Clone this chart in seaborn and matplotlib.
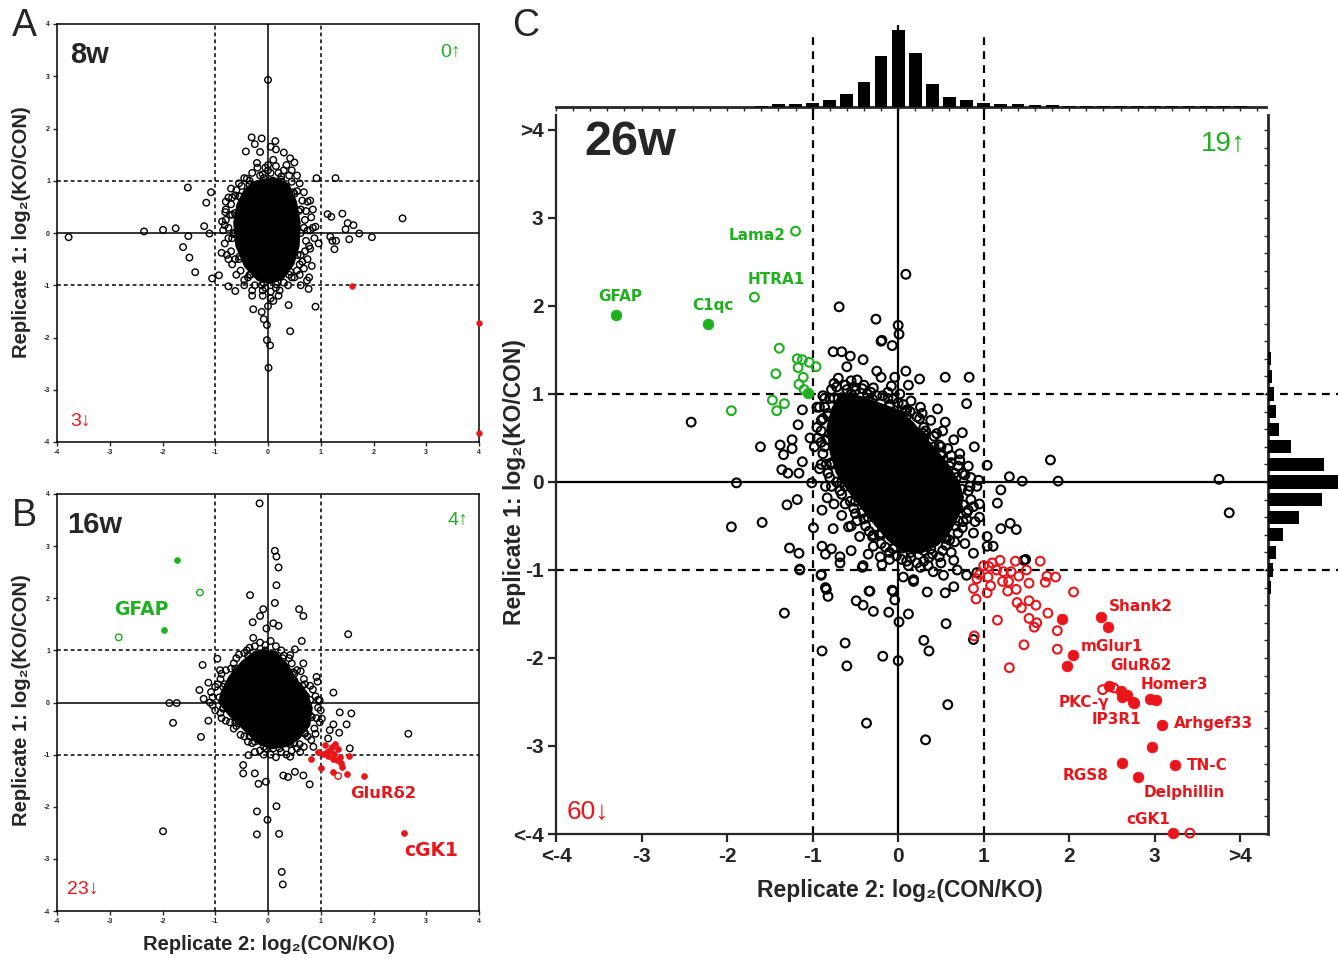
import numpy as np
import pandas as pd
import matplotlib
matplotlib.use('Agg')
import matplotlib.pyplot as plt
import seaborn as sns
from matplotlib.ticker import MultipleLocator

sns.set_style('ticks')
plt.rcParams['font.family'] = ['Liberation Sans', 'DejaVu Sans']
NARROW = ['Liberation Sans Narrow', 'Liberation Sans', 'DejaVu Sans']
GENE = ['DejaVu Sans']

GREEN = '#1FAF1F'
RED = '#E8161B'

# ---------------- Panel A (8w) ----------------
a_core_x = [-0.25, 0.1, 0.4, 0.55, 0.62, 0.6, 0.5, 0.3, 0.05, -0.2, -0.45, -0.62, -0.66, -0.6, -0.45]
a_core_y = [1.0, 1.08, 0.95, 0.6, 0.2, -0.25, -0.6, -0.88, -0.98, -0.92, -0.65, -0.25, 0.2, 0.55, 0.85]
a_black_x = [0.0, -3.78, -2.35, -1.99, -1.75, -1.52, -1.51, -1.61, -1.49, -1.38, -1.21, -1.11, -1.17, -1.08,
             -1.06, -0.93, -0.87, -0.81, -0.75, -0.62, -0.28, -0.12, -0.02, -0.02, 0.04, 0.01, 0.39, 0.42,
             0.90, 0.77, 0.74, 0.83, 0.92, 1.28, 0.42, -0.31, -0.12, 0.14, -0.42, 0.30, -0.21, -0.40, 0.96,
             1.13, 1.20, 1.41, 1.47, 1.51, 1.62, 1.54, 1.73, 1.97, 2.55, 1.18, 1.22, 1.29, 1.26,
             -0.75, -0.88, -0.85, -0.8, -0.68, -0.7, 0.55, 0.45, 0.5, 0.35, -0.05, 0.1, -0.15, 0.15, -0.25,
             0.05, 0.8, 0.85, 0.9, 0.88, 0.78, 0.62, -0.45, -0.3, 0.1, 0.2, 0.0, -0.08,
             -0.5, -0.35, -0.15, 0.05, 0.25, 0.45, 0.55, 0.65, 0.72, 0.70, 0.75, 0.72, 0.70, 0.65, 0.55,
             0.45, 0.30, 0.15, -0.05, -0.25, -0.38, -0.52, -0.62, -0.70, -0.75, -0.75, -0.72, -0.70,
             -0.62, 0.8, 0.85, -0.8, 0.6, -0.1, 0.05, 0.0, 0.2,
             -0.55, -0.45, -0.3, -0.2, 0.0, 0.15, 0.3, 0.4, 0.6, 0.68, 0.75, 0.82, 0.8, 0.78, 0.75, 0.68,
             0.6, 0.5, 0.38, 0.22, 0.05, -0.1, -0.3, -0.45, -0.6, -0.68, -0.78, -0.82, -0.65, -0.82, -0.8,
             -0.75, -0.6, -0.35, -0.1, 0.25, 0.5, 0.62, 0.68, 0.62, 0.4, 0.15, -0.12, -0.35, -0.55, -0.68,
             -0.68, -0.55,
             -0.08, 0.25, 0.48, 0.58, 0.62, 0.56, 0.42, 0.18, -0.08, -0.33, -0.54, -0.65, -0.63, -0.53, -0.35]
a_black_y = [2.93, -0.08, 0.03, 0.06, 0.09, 0.87, -0.06, -0.27, -0.47, -0.75, 0.13, -0.01, 0.58, 0.78,
             -0.87, -0.81, 0.22, 0.40, -1.02, -1.11, -1.46, -1.51, -1.76, -2.05, -2.15, -2.58, -1.38, -1.88,
             -1.41, -1.07, -0.91, -0.63, 1.05, 1.05, 1.43, 1.83, 1.81, 1.76, 1.56, 1.54, 1.34, 1.04, -0.20,
             0.36, 0.31, 0.37, 0.07, 0.19, 0.15, -0.12, -0.01, -0.08, 0.28, -0.07, -0.15, -0.15, -0.31,
             -0.5, -0.38, 0.05, 0.6, 0.68, 0.85, 1.1, 1.2, 1.35, 1.3, 1.25, 1.4, 1.55, 1.6, 1.7,
             1.65, 0.62, 0.45, 0.12, -0.1, -0.85, -1.0, -1.0, -1.2, -1.3, -1.2, -1.4, -1.65,
             0.9, 1.0, 1.1, 1.15, 1.08, 0.98, 0.8, 0.62, 0.42, 0.25, 0.05, -0.15, -0.35, -0.55, -0.72,
             -0.85, -0.95, -1.05, -1.05, -1.0, -0.85, -0.72, -0.5, -0.35, -0.1, 0.1, 0.35, 0.55,
             0.72, -0.3, 0.1, 0.25, -0.8, -1.2, -1.25, 1.2, 1.15,
             0.95, 1.05, 1.15, 1.25, 1.3, 1.28, 1.2, 1.1, 0.95, 0.78, 0.6, 0.3, 0.05, -0.25, -0.5, -0.68,
             -0.6, -0.85, -1.0, -1.1, -1.12, -1.1, -1.1, -0.9, -0.8, -0.6, -0.42, -0.2, 0.0, 0.15, 0.45,
             0.68, 0.82, 0.92, 1.12, 0.98, 0.75, 0.45, 0.1, -0.42, -0.8, -0.98, -1.0, -0.8, -0.5, -0.1,
             0.35, 0.7,
             1.05, 1.02, 0.78, 0.42, 0.0, -0.42, -0.74, -0.94, -0.96, -0.8, -0.45, -0.02, 0.38, 0.7, 0.93]
a_red_x = [1.60, 4.0, 4.0]
a_red_y = [-1.02, -1.72, -3.83]

# ---------------- Panel B (16w) ----------------
b_core_x = [-0.25, 0.15, 0.4, 0.55, 0.75, 0.85, 0.8, 0.6, 0.4, 0.05, -0.2, -0.5, -0.75, -0.95, -0.9, -0.75, -0.5]
b_core_y = [1.0, 1.0, 0.7, 0.45, 0.2, -0.1, -0.45, -0.7, -0.85, -0.9, -0.8, -0.5, -0.25, 0.0, 0.2, 0.5, 0.8]
b_black_x = [-0.16, 0.13, 0.16, 0.20, 0.16, 0.13, -0.34, -0.09, -0.15, -0.29, 0.10, 0.20, -0.03, -0.28,
             0.59, 0.67, 0.64, 1.52, 0.51, 0.42, 0.67, 0.92, 0.94, 1.24, 0.98, -1.24, -1.13, -1.30, -1.22,
             -1.87, -1.73, -1.80, -1.13, -1.27, -0.96, -0.91, -1.99, -0.21, -0.21, -0.01, 0.16, 0.21, 0.26,
             0.28, -0.47, -0.47, -0.25, -0.18, -0.04, 0.29, 0.38, 0.51, 0.67, 0.79, 2.66, 1.58, 1.36, 1.55,
             1.24, 1.49, 1.02, 1.17, 1.35, 1.14, -0.37, -0.03, 0.42, 0.61, 0.86,
             -0.4, -0.25, -0.05, 0.15, 0.3, 0.45, 0.55, 0.68, 0.80, 0.9, 0.95, 0.92, 0.88, 0.75, 0.6, 0.45,
             0.25, 0.05, -0.15, -0.3, -0.45, -0.6, -0.8, -0.9, -1.05, -1.05, -1.0, -0.9, -0.8, -0.65, -0.55,
             -0.35, -0.15, 0.05, 0.25, 0.4, 0.5, 0.62, 0.7, 0.85, 0.95, 1.0, 0.98, 0.9, 0.82, 0.68, 0.55,
             0.35, 0.15, -0.08, -0.25, -0.38, -0.52, -0.65, -0.72, -0.88, -1.0, -1.1, -1.08, -0.95, -0.88,
             -0.7, -0.6, -0.45, -0.1, 0.3, 0.5, 0.72, 0.8, 0.7, 0.42, 0.1, -0.25, -0.55, -0.85, -0.85, -0.6,
             -0.05, 0.28, 0.48, 0.65, 0.8, 0.83, 0.7, 0.5, 0.22, -0.08, -0.35, -0.62, -0.85, -0.92, -0.82,
             -0.62, -0.38]
b_black_y = [3.82, 2.91, 2.80, 2.59, 2.25, 1.91, 2.06, 1.79, 1.66, 1.54, 1.52, 1.47, 1.42, 1.24,
             1.79, 1.66, 1.18, 1.31, 1.02, 0.91, 0.75, 0.49, 0.40, 0.19, 0.04, 0.72, 0.38, 0.24, 0.07,
             -0.01, -0.01, -0.39, -0.35, -0.66, 0.84, 0.62, -2.47, -2.09, -2.53, -2.25, -1.99, -2.52, -3.25,
             -3.49, -1.20, -1.36, -1.36, -1.56, -1.52, -1.40, -1.43, -1.33, -1.40, -1.57, -0.60, -0.21, -0.19,
             -0.88, -0.42, -0.42, -0.31, -0.53, -0.58, -0.69, -1.01, -0.88, -1.04, -0.95, -0.85,
             1.0, 1.08, 1.1, 1.08, 0.9, 0.75, 0.62, 0.45, 0.32, 0.12, -0.1, -0.3, -0.5, -0.65, -0.8, -0.92,
             -0.95, -1.0, -0.92, -0.78, -0.65, -0.45, -0.35, -0.2, -0.05, 0.1, 0.3, 0.45, 0.62, 0.75, 0.92,
             1.05, 1.15, 1.18, 1.0, 0.85, 0.55, 0.6, 0.35, 0.25, 0.05, -0.15, -0.38, -0.6, -0.72, -0.85, -0.88,
             -1.0, -1.05, -1.0, -0.95, -0.75, -0.62, -0.5, -0.38, -0.3, -0.15, 0.0, 0.2, 0.35, 0.55,
             0.65, 0.85, 0.95, 0.95, 0.72, 0.42, 0.12, -0.25, -0.6, -0.8, -0.88, -0.75, -0.4, -0.1, 0.3, 0.6,
             1.0, 0.85, 0.58, 0.32, 0.05, -0.28, -0.58, -0.78, -0.88, -0.85, -0.65, -0.38, -0.12, 0.1, 0.35,
             0.65, 0.9]
b_green_open_x = [-1.29, -2.83]
b_green_open_y = [2.11, 1.25]
b_green_fill_x = [-1.73, -1.97]
b_green_fill_y = [2.73, 1.39]
b_red_fill_x = [2.57, 1.82, 1.50, 1.24, 1.00, 0.81, 0.95, 1.39, 1.41, 1.54, 1.08, 1.27, 1.17, 1.26,
                1.33, 1.14, 1.24, 1.05, 1.36, 1.21, 1.11, 1.30]
b_red_fill_y = [-2.50, -1.41, -1.38, -1.33, -1.25, -1.09, -0.95, -1.17, -1.24, -1.02, -0.82, -0.80, -0.92,
                -0.98, -0.90, -1.03, -1.08, -0.99, -1.04, -0.85, -0.95, -1.11]
b_red_open_x = [1.33]
b_red_open_y = [-1.41]

# ---------------- Panel C (26w) ----------------
c_core_x = [-0.68, -0.44, -0.21, 0.02, 0.18, 0.37, 0.57, 0.71, 0.77, 0.73, 0.62, 0.47, 0.26, 0.04, -0.12,
            -0.28, -0.43, -0.58, -0.73, -0.80, -0.84, -0.78]
c_core_y = [1.02, 0.98, 0.90, 0.82, 0.68, 0.46, 0.23, 0.02, -0.17, -0.35, -0.56, -0.72, -0.82, -0.79, -0.67,
            -0.49, -0.31, -0.12, 0.10, 0.33, 0.62, 0.84]
c_black_x = [-2.42, -1.95, -1.89, -1.61, -1.59, -1.33, -1.38, -1.24, -1.24, -1.34, -1.12, -1.36, -1.29, -1.16,
             -1.17, -1.12, -1.03, -0.95, -1.01, -1.30, -1.18, -0.99, -0.89, -0.83, -0.76, -0.58, -1.27, -1.16,
             -0.89, -0.85, -0.78, -0.68, -0.55, -1.15, -0.90, -0.85, -0.82, -0.41, -0.49, -0.34, -0.29, -0.21,
             -0.19, -0.29, -0.07, 0.06, 0.18, 0.34, 0.55, 0.65, 0.41, 0.53, 0.69, 0.80, 0.92, 0.26, 0.65, 0.88,
             1.04,
             -0.69, -0.26, 0.0, 0.01, -0.20, -0.07, -0.76, -0.66, -0.56, -0.41, -0.60, -0.25, -0.20, -0.70,
             -0.48, -0.04, 0.09, 0.12, 0.25, 0.55, 0.83, -0.08, -0.29, 0.80, 0.46, 0.55, 0.26, 0.75, 0.89,
             1.04, 1.78, 1.30, 1.45, 1.87, 1.20, 1.16, 1.31, 1.38, 1.20, 1.11, 1.47, 0.95, 0.94, 0.80, 0.88,
             1.04, 0.09, 3.75, 3.87, -0.19,
             -0.89, -0.62, -0.60, -0.18, 0.0, 0.01, 0.12, 0.30, 0.36, 0.56, 0.88, 0.58, -0.37, 0.32, -0.41,
             -0.29, -0.33, -0.11, -0.06, -0.04, -0.84, -0.90, -0.68, -0.42, 0.18, 1.49, -1.15,
             -0.72, -0.60, -0.50, -0.36, -0.25, -0.12, 0.0, 0.10, 0.22, 0.30, 0.42, 0.50, 0.62, 0.70, 0.78,
             0.84, 0.85, 0.82, 0.76, 0.70, 0.60, 0.52, 0.40, 0.30, 0.15, 0.04, -0.06, -0.15, -0.22, -0.34,
             -0.40, -0.50, -0.56, -0.66, -0.72, -0.80, -0.84, -0.88, -0.90, -0.90, -0.88, -0.86, -0.80,
             -0.95, -0.98, -0.92, -0.85, -0.75, -0.66, -0.55, -0.45, -0.35, -0.10, 0.12, 0.35, 0.50, 0.62,
             0.78, 0.90, 0.95, 0.92, 0.82, 0.72, 0.65, 0.52, 0.38, 0.28, 0.15, 0.02, -0.12, -0.40, -0.55,
             -0.78, -0.88, -0.92,
             -0.75, -0.62, -0.52, -0.42, -0.32, -0.18, -0.06, 0.06, 0.14, 0.25, 0.32, 0.45, 0.48, 0.58, 0.62,
             0.72, 0.75, 0.85, 0.82, 0.88, 0.80, 0.75, 0.66, 0.56, 0.48, 0.36, 0.22, 0.10, -0.02, -0.10,
             -0.20, -0.30, -0.38, -0.48, -0.52, -0.62, -0.68, -0.78, -0.82, -0.90, -0.86, -0.94, -0.90,
             -0.82, -0.86, -0.70, -0.55, -0.35, -0.10, 0.10, 0.30, 0.50, 0.68, 0.70, 0.55, 0.30, 0.05,
             -0.20, -0.42, -0.62, -0.78, -0.80,
             0.30, 0.42, 0.50, 0.60, 0.66, 0.74, 0.76, 0.70, 0.67, 0.55, 0.38, 0.15, 0.08, -0.10, -0.30,
             -0.55, -0.75, -0.82, -0.83, -0.78, -0.66, -0.50, -0.35, -0.20, -0.04]
c_black_y = [0.68, -0.51, -0.01, 0.40, -0.46, -1.49, 0.42, 0.48, 0.38, 0.31, 0.23, 0.14, 0.10, 0.10,
             0.65, 0.82, 0.50, 0.85, -0.01, -0.26, -0.20, -0.52, -0.32, -0.18, -0.53, -0.51, -0.75, -0.81,
             -0.73, -0.82, -0.76, -0.85, -0.78, -0.99, -1.05, -1.20, -1.30, -0.95, -1.35, -1.24, -0.60, -0.85,
             -0.94, -0.73, -1.23, -1.08, -1.13, -1.25, -1.26, -1.19, -1.02, -1.06, -1.00, -1.06, -1.03, -0.97,
             -0.89, -0.81, -0.73,
             1.99, 1.85, 1.78, 1.68, 1.60, 1.55, 1.48, 1.48, 1.43, 1.39, 1.31, 1.26, 1.19, 1.18,
             1.16, 1.19, 1.26, 1.10, 1.17, 1.19, 1.19, 1.09, 1.07, 0.89, 0.83, 0.68, 0.85, 0.56, 0.40,
             0.19, 0.25, 0.06, 0.01, 0.01, -0.09, -0.24, -0.47, -0.54, -0.53, -0.73, -0.89, -0.40, 0.02, -0.35,
             -0.58, -0.62, 2.36, 0.03, -0.35, 1.61,
             -1.92, -1.83, -2.09, -1.98, -2.03, -1.59, -1.50, -1.80, -1.92, -1.61, -1.79, -2.53, -2.74, -2.93,
             -1.40, -1.47, -1.24, -1.48, -1.24, -1.34, -1.22, -1.06, -0.92, -0.97, -1.11, -0.88, -1.00,
             1.08, 1.05, 1.04, 1.00, 0.98, 0.95, 0.90, 0.82, 0.74, 0.62, 0.52, 0.40, 0.30, 0.18, 0.08,
             -0.05, -0.20, -0.32, -0.45, -0.58, -0.66, -0.78, -0.82, -0.90, -0.86, -0.88, -0.76, -0.74, -0.60,
             -0.56, -0.42, -0.36, -0.22, -0.14, 0.00, 0.05, 0.20, 0.32, 0.45, 0.58, 0.72, 0.85, 0.95,
             0.62, 0.40, 0.15, -0.05, -0.25, -0.38, -0.50, -0.62, -0.82, -0.88, -0.95, -0.95, -0.92, -0.80,
             -0.70, -0.45, -0.25, -0.05, 0.18, 0.32, 0.48, 0.58, 0.70, 0.78, 0.92, 1.00, 1.02, 1.10, 1.15,
             1.05, 0.98, 0.85,
             1.12, 1.10, 1.08, 1.06, 1.02, 0.98, 0.94, 0.88, 0.80, 0.72, 0.58, 0.55, 0.42, 0.38, 0.22,
             0.25, 0.10, 0.05, -0.10, -0.28, -0.42, -0.52, -0.68, -0.72, -0.85, -0.86, -0.92, -0.90, -0.84,
             -0.80, -0.70, -0.62, -0.50, -0.44, -0.30, -0.25, -0.10, -0.05, 0.10, 0.20, 0.40, 0.50, 0.70,
             0.78, 0.95, 0.95, 1.00, 0.92, 0.88, 0.75, 0.50, 0.30, 0.05, -0.30, -0.62, -0.78, -0.75,
             -0.60, -0.35, -0.05, 0.20, 0.55,
             0.55, 0.40, 0.33, 0.18, 0.10, -0.08, -0.26, -0.44, -0.50, -0.64, -0.76, -0.80, 0.80, 0.86, 0.94,
             1.00, 0.95, 0.75, 0.48, 0.22, 0.00, -0.22, -0.40, -0.58, -0.74]
c_green_open_x = [-1.68, -1.20, -1.39, -1.18, -1.12, -1.04, -0.96, -1.17, -1.43, -1.11, -1.16, -1.47, -1.33,
                  -1.42, -1.95, -1.10]
c_green_open_y = [2.10, 2.85, 1.52, 1.40, 1.39, 1.36, 1.31, 1.30, 1.23, 1.19, 1.11, 0.93, 0.89, 0.81, 0.81,
                  1.05]
c_green_fill_x = [-3.30, -2.22, -1.05]
c_green_fill_y = [1.90, 1.80, 1.01]
c_red_fill_x = [2.37, 2.45, 1.91, 2.04, 1.97, 2.47, 2.60, 2.62, 2.68, 2.74, 2.76, 2.94, 3.01, 3.09, 2.97,
                3.24, 2.62, 2.80, 3.21]
c_red_fill_y = [-1.53, -1.65, -1.56, -1.97, -2.09, -2.32, -2.38, -2.44, -2.42, -2.50, -2.51, -2.47, -2.48,
                -2.76, -3.01, -3.22, -3.19, -3.35, -3.99]
c_red_open_x = [3.41, 2.39, 2.52, 1.10, 1.19, 1.37, 1.66, 1.06, 1.23, 1.32, 1.41, 1.74, 1.84, 0.92, 1.05,
                1.22, 1.29, 1.53, 1.72, 0.88, 1.04, 1.28, 1.38, 2.05, 0.91, 1.39, 1.53, 1.61, 1.44, 1.75,
                1.16, 1.53, 1.62, 1.59, 1.86, 1.47, 1.86, 1.30, 0.89, 1.00, 1.15, 0.95, 1.08, 1.50]
c_red_open_y = [-3.99, -2.36, -2.34, -0.92, -0.89, -0.90, -0.90, -0.96, -1.02, -1.02, -1.07, -1.07, -1.08,
                -1.10, -1.08, -1.13, -1.13, -1.15, -1.14, -1.21, -1.26, -1.24, -1.22, -1.25, -1.33, -1.37,
                -1.35, -1.40, -1.43, -1.49, -1.57, -1.55, -1.60, -1.65, -1.69, -1.85, -1.90, -2.11, -1.75,
                -0.95, -1.00, -1.05, -1.18, -1.00]

# marginal histograms of panel C
top_centers = [-1.6, -1.4, -1.2, -1.0, -0.8, -0.6, -0.4, -0.2, 0.0, 0.2, 0.4, 0.6, 0.8, 1.0, 1.2, 1.4, 1.6,
               1.8, 2.0, 2.2, 2.4, 2.6, 2.8, 3.0, 3.2, 3.4, 3.6, 3.8, 4.0]
top_counts = [4, 8, 8, 12, 22, 40, 74, 152, 230, 162, 68, 29, 20, 12, 8, 8, 5, 5, 3, 3, 3, 4, 3, 3, 3, 3, 3,
              2, 2]
right_centers = [-1.2, -1.0, -0.8, -0.6, -0.4, -0.2, 0.0, 0.2, 0.4, 0.6, 0.8, 1.0, 1.2, 1.4]
right_counts = [10, 15, 25, 46, 92, 162, 215, 168, 68, 32, 23, 17, 13, 10]

# ---------------- figure ----------------
W, H = 1338, 958
fig = plt.figure(figsize=(W / 100, H / 100), dpi=100)


def rect(l, t, r, b):
    return [l / W, 1 - b / H, (r - l) / W, (b - t) / H]


def ftext(px, py, s, **kw):
    fig.text(px / W, 1 - py / H, s, **kw)


def open_pts(ax, xs, ys, color, s, lw, z=3):
    sns.scatterplot(x=xs, y=ys, ax=ax, s=s, color=color, facecolor='none', edgecolor=color,
                    linewidth=lw, legend=False, zorder=z, clip_on=False)


def fill_pts(ax, xs, ys, color, s, z=4):
    sns.scatterplot(x=xs, y=ys, ax=ax, s=s, color=color, edgecolor=color, linewidth=0.5,
                    legend=False, zorder=z, clip_on=False)


def small_panel(ax):
    ax.set_xlim(-4, 4)
    ax.set_ylim(-4, 4)
    ticks = list(range(-4, 5))
    ax.set_xticks(ticks)
    ax.set_yticks(ticks)
    ax.set_xticklabels([str(t) for t in ticks], fontsize=5, fontweight='bold')
    ax.set_yticklabels([str(t) for t in ticks], fontsize=5, fontweight='bold')
    ax.tick_params(length=3, width=1.0, pad=2, direction='out')
    for sp in ax.spines.values():
        sp.set_linewidth(1.1)
        sp.set_color('black')
    ax.axhline(0, color='black', lw=1.1, zorder=1)
    ax.axvline(0, color='black', lw=1.1, zorder=1)
    for v in (-1, 1):
        ax.axhline(v, color='black', lw=1.1, ls=(0, (2.5, 2)), zorder=1)
        ax.axvline(v, color='black', lw=1.1, ls=(0, (2.5, 2)), zorder=1)


# Panel A
axA = fig.add_axes(rect(57, 24, 479, 442))
small_panel(axA)
axA.fill(a_core_x, a_core_y, color='black', lw=0, zorder=2)
open_pts(axA, a_black_x, a_black_y, 'black', 22, 1.0)
fill_pts(axA, a_red_x, a_red_y, RED, 16)
axA.set_xlabel('')
axA.set_ylabel('')

# Panel B
axB = fig.add_axes(rect(57, 494, 479, 911))
small_panel(axB)
axB.fill(b_core_x, b_core_y, color='black', lw=0, zorder=2)
open_pts(axB, b_black_x, b_black_y, 'black', 22, 1.0)
open_pts(axB, b_green_open_x, b_green_open_y, GREEN, 22, 1.0)
fill_pts(axB, b_green_fill_x, b_green_fill_y, GREEN, 18)
fill_pts(axB, b_red_fill_x, b_red_fill_y, RED, 18)
open_pts(axB, b_red_open_x, b_red_open_y, RED, 22, 1.0)
axB.set_xlabel('')
axB.set_ylabel('')

# Panel C main
axC = fig.add_axes(rect(556, 115, 1266, 834))
axC.set_xlim(-4, 4.3)
axC.set_ylim(-4, 4.17)
for side in ('top', 'right'):
    axC.spines[side].set_visible(False)
for side in ('left', 'bottom'):
    axC.spines[side].set_linewidth(1.6)
ticks = list(range(-4, 5))
labs = ['<-4', '-3', '-2', '-1', '0', '1', '2', '3', '>4']
axC.set_xticks(ticks)
axC.set_yticks(ticks)
axC.set_xticklabels(labs, fontsize=15, fontweight='bold', family=NARROW)
axC.set_yticklabels(labs, fontsize=15, fontweight='bold', family=NARROW)
axC.tick_params(length=6, width=1.6, pad=3, direction='out')
dash = (0, (3.5, 2.8))
axC.axhline(0, color='black', lw=1.6, zorder=1)
axC.axvline(0, color='black', lw=1.6, zorder=1)
for v in (-1, 1):
    axC.axhline(v, color='black', lw=1.6, ls=dash, zorder=1)
    axC.axvline(v, color='black', lw=1.6, ls=dash, zorder=1)
axC.fill(c_core_x, c_core_y, color='black', lw=0, zorder=2)
open_pts(axC, c_black_x, c_black_y, 'black', 40, 1.5)
open_pts(axC, c_green_open_x, c_green_open_y, GREEN, 40, 1.5)
fill_pts(axC, c_green_fill_x, c_green_fill_y, GREEN, 60)
open_pts(axC, c_red_open_x, c_red_open_y, RED, 40, 1.5)
fill_pts(axC, c_red_fill_x, c_red_fill_y, RED, 60)
axC.set_xlabel('')
axC.set_ylabel('')

# top histogram
axT = fig.add_axes(rect(556, 25, 1266, 115))
sns.histplot(x=top_centers, weights=top_counts, binwidth=0.2, binrange=(-4.1, 4.3), shrink=0.75,
             color='black', alpha=1, edgecolor='none', ax=axT, zorder=3)
axT.set_xlim(-4, 4.3)
axT.set_ylim(-23.9, 245)
for side in ('top', 'right', 'left'):
    axT.spines[side].set_visible(False)
axT.spines['bottom'].set_position(('data', 0))
axT.spines['bottom'].set_linewidth(2.0)
axT.set_yticks([])
axT.xaxis.set_major_locator(MultipleLocator(0.2))
axT.tick_params(axis='x', length=3, width=1.0, labelbottom=False, direction='out')
axT.axvline(0, color='black', lw=1.6, zorder=1)
for v in (-1, 1):
    axT.axvline(v, ymax=0.89, color='black', lw=1.6, ls=dash, zorder=1)
axT.set_xlabel('')
axT.set_ylabel('')
axT.patch.set_alpha(0)

# right histogram
axR = fig.add_axes(rect(1266, 115, 1338, 834))
sns.histplot(y=right_centers, weights=right_counts, binwidth=0.2, binrange=(-4.1, 4.3), shrink=0.75,
             color='black', alpha=1, edgecolor='none', ax=axR, zorder=3)
axR.set_ylim(-4, 4.17)
axR.set_xlim(-6, 210)
for side in ('top', 'right', 'bottom'):
    axR.spines[side].set_visible(False)
axR.spines['left'].set_position(('data', 0))
axR.spines['left'].set_linewidth(2.0)
axR.set_xticks([])
axR.yaxis.set_major_locator(MultipleLocator(0.2))
axR.tick_params(axis='y', length=3, width=1.0, labelleft=False, direction='out')
for v in (-1, 1):
    axR.axhline(v, color='black', lw=1.6, ls=dash, zorder=1)
axR.axhline(0, xmax=0.03, color='black', lw=1.6, zorder=1)
axR.set_xlabel('')
axR.set_ylabel('')
axR.patch.set_alpha(0)

# ---------------- texts ----------------
ftext(12, 26, 'A', fontsize=27, ha='left', va='center')
ftext(12, 516, 'B', fontsize=27, ha='left', va='center')
ftext(512, 26, 'C', fontsize=27, ha='left', va='center')

ftext(70, 63, '8w', fontsize=21, fontweight='bold', ha='left', va='baseline')
ftext(67, 533, '16w', fontsize=21, fontweight='bold', ha='left', va='baseline')
ftext(584, 155, '26w', fontsize=35, fontweight='bold', ha='left', va='baseline')

ftext(461, 57, '0↑', fontsize=14, color=GREEN, ha='right', va='baseline')
ftext(70, 426, '3↓', fontsize=14, color=RED, ha='left', va='baseline')
ftext(468, 525, '4↑', fontsize=14, color=GREEN, ha='right', va='baseline')
ftext(67, 894, '23↓', fontsize=14, color=RED, ha='left', va='baseline')
ftext(1246, 151, '19↑', fontsize=20, color=GREEN, ha='right', va='baseline')
ftext(567, 819, '60↓', fontsize=19, color=RED, ha='left', va='baseline')

ftext(22, 232, 'Replicate 1: log₂(KO/CON)', fontsize=14.5, fontweight='bold', rotation=90,
      ha='center', va='center', family=NARROW)
ftext(22, 700, 'Replicate 1: log₂(KO/CON)', fontsize=14.5, fontweight='bold', rotation=90,
      ha='center', va='center', family=NARROW)
ftext(269, 944, 'Replicate 2: log₂(CON/KO)', fontsize=14.5, fontweight='bold',
      ha='center', va='center', family=NARROW)
ftext(514, 482, 'Replicate 1: log₂(KO/CON)', fontsize=16.5, fontweight='bold', rotation=90,
      ha='center', va='center', family=NARROW)
ftext(900, 890, 'Replicate 2: log₂(CON/KO)', fontsize=16.5, fontweight='bold',
      ha='center', va='center', family=NARROW)

gk = dict(fontweight='bold', family=GENE, va='center')
for s, x, y in [('GFAP', -3.25, 2.11), ('C1qc', -2.16, 2.01), ('HTRA1', -1.42, 2.30), ('Lama2', -1.65, 2.80)]:
    axC.text(x, y, s, color=GREEN, fontsize=11, ha='center', **gk)
for s, x, y in [('Shank2', 2.46, -1.42), ('mGlur1', 2.13, -1.875), ('GluRδ2', 2.48, -2.09),
                ('Homer3', 2.83, -2.30), ('PKC-γ', 1.87, -2.51), ('IP3R1', 2.26, -2.70),
                ('Arhgef33', 3.22, -2.75), ('TN-C', 3.37, -3.22), ('RGS8', 1.92, -3.34),
                ('Delphillin', 2.87, -3.53), ('cGK1', 2.67, -3.83)]:
    axC.text(x, y, s, color=RED, fontsize=11, ha='left', **gk)

axB.text(-2.41, 1.79, 'GFAP', color=GREEN, fontsize=13.5, ha='center', **gk)
axB.text(2.18, -1.74, 'GluRδ2', color=RED, fontsize=11.8, ha='center', **gk)
axB.text(3.09, -2.83, 'cGK1', color=RED, fontsize=13.5, ha='center', **gk)

fig.savefig('out.png', dpi=100)
